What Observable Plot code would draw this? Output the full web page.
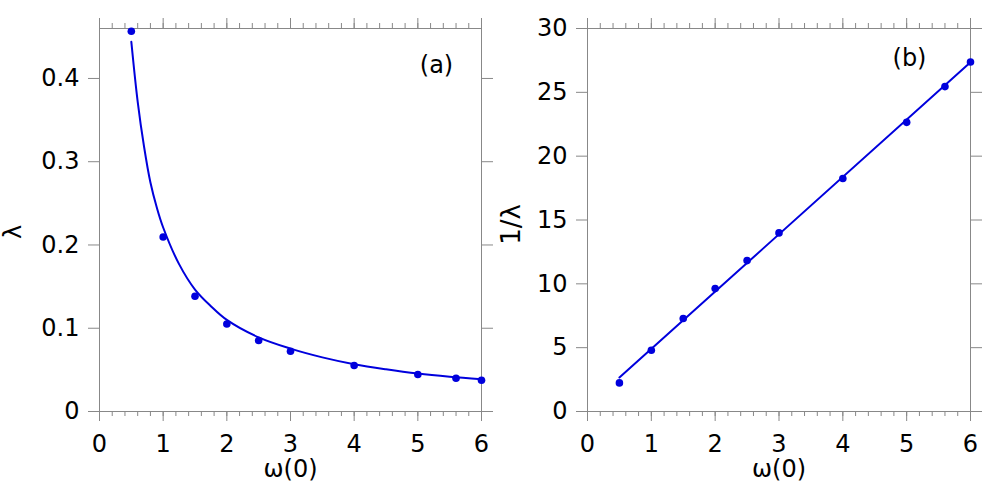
<!DOCTYPE html>
<html>
<head>
<meta charset="utf-8">
<script src="https://cdn.jsdelivr.net/npm/d3@7"></script>
<script src="https://cdn.jsdelivr.net/npm/@observablehq/plot@0.6"></script>
<style>
  html, body { margin: 0; padding: 0; background: white; }
  #wrap { position: relative; width: 996px; height: 492px; }
  #wrap > svg { position: absolute; top: 0; }
</style>
</head>
<body>
<div id="wrap"></div>
<script>
// ---- data ----
const omega = [0.5, 1, 1.5, 2, 2.5, 3, 4, 5, 5.6, 6];
const lambda = [0.4567, 0.2095, 0.1384, 0.1051, 0.0852, 0.0724, 0.0552, 0.0444, 0.0400, 0.0376];
const invLambda = [2.24, 4.80, 7.28, 9.63, 11.82, 13.99, 18.25, 22.65, 25.45, 27.38];

// fitted curve in panel (a)
const fitOmegaA = [0.5, 0.6, 0.7, 0.8, 0.9, 1.0, 1.25, 1.5, 1.75, 2, 2.5, 3, 3.5, 4, 4.5, 5, 5.5, 6];
const fitLambdaA = [0.444, 0.372, 0.318, 0.275, 0.245, 0.221, 0.177, 0.1465, 0.1265, 0.110, 0.089, 0.0755, 0.065, 0.0568, 0.0507, 0.0456, 0.0418, 0.0388];
// fitted straight line in panel (b), its two ends
const fitOmegaB = [0.5, 6];
const fitInvLambdaB = [2.66, 27.35];

// ticks
const xTicks = [0, 1, 2, 3, 4, 5, 6];
const xTickLabels = ["0", "1", "2", "3", "4", "5", "6"];
const xMinorTicks = [0,0.2,0.4,0.6,0.8,1,1.2,1.4,1.6,1.8,2,2.2,2.4,2.6,2.8,3,3.2,3.4,3.6,3.8,4,4.2,4.4,4.6,4.8,5,5.2,5.4,5.6,5.8,6];
const yTicksA = [0, 0.1, 0.2, 0.3, 0.4];
const yTickLabelsA = ["0", "0.1", "0.2", "0.3", "0.4"];
const yTicksB = [0, 5, 10, 15, 20, 25, 30];
const yTickLabelsB = ["0", "5", "10", "15", "20", "25", "30"];

const xLabel = "ω(0)";
const yLabelA = "λ";
const yLabelB = "1/λ";
const panelA = "(a)";
const panelB = "(b)";

// ---- styles ----
const BLUE = "#0000dd";
const GRAY = "#888888";
const FONT = "DejaVu Sans";

function fmt(ticks, labels) {
  const m = new Map(ticks.map((t, i) => [t, labels[i]]));
  return d => m.get(d) ?? "";
}

function panel({ml, mr, ydomain, yTicks, yLabels, ptsY, fitX, fitY, fitCurve, yLabel, yLabelSize, yLabelDx, yLabelDy, tag, tagDx, tagDy}) {
  const pts = omega.map((x, i) => ({x, y: ptsY[i]}));
  const fit = fitX.map((x, i) => ({x, y: fitY[i]}));
  const centered = {textAnchor: "middle", lineAnchor: "middle", fill: "black"};
  return Plot.plot({
    width: 498,
    height: 492,
    marginLeft: ml,
    marginRight: mr,
    marginTop: 28,
    marginBottom: 81,
    style: {fontFamily: FONT, fontSize: "24px", background: "transparent", color: "black", overflow: "visible"},
    x: {domain: [0, 6]},
    y: {domain: ydomain},
    marks: [
      Plot.frame({stroke: GRAY, strokeWidth: 1}),
      // bottom axis
      Plot.axisX({anchor: "bottom", ticks: xMinorTicks, tickSize: 5, tickFormat: () => "", label: null, stroke: GRAY, strokeWidth: 1}),
      Plot.axisX({anchor: "bottom", ticks: xTicks, tickSize: 10, tickPadding: 13, tickFormat: fmt(xTicks, xTickLabels), label: null, stroke: GRAY, strokeWidth: 1, fill: "black", fontSize: 24}),
      // top axis
      Plot.axisX({anchor: "top", ticks: xMinorTicks, tickSize: 6, tickFormat: () => "", label: null, stroke: GRAY, strokeWidth: 1}),
      Plot.axisX({anchor: "top", ticks: xTicks, tickSize: 11, tickFormat: () => "", label: null, stroke: GRAY, strokeWidth: 1}),
      // left / right axes
      Plot.axisY({anchor: "left", ticks: yTicks, tickSize: 11, tickPadding: 9, tickFormat: fmt(yTicks, yLabels), label: null, stroke: GRAY, strokeWidth: 1, fill: "black", fontSize: 24}),
      Plot.axisY({anchor: "right", ticks: yTicks, tickSize: 11, tickFormat: () => "", label: null, stroke: GRAY, strokeWidth: 1}),
      // data
      Plot.line(fit, {x: "x", y: "y", stroke: BLUE, strokeWidth: 2, curve: fitCurve}),
      Plot.dot(pts, {x: "x", y: "y", r: 3.8, fill: BLUE, stroke: "none"}),
      // labels
      Plot.text([xLabel], {frameAnchor: "bottom", dy: 58, fontSize: 24, ...centered}),
      Plot.text([yLabel], {frameAnchor: "left", dx: yLabelDx, dy: yLabelDy, rotate: -90, fontSize: yLabelSize, ...centered}),
      Plot.text([tag], {frameAnchor: "top-right", dx: tagDx, dy: tagDy, fontSize: 24, ...centered})
    ]
  });
}

const svgA = panel({
  ml: 99, mr: 17, ydomain: [0, 0.46], yTicks: yTicksA, yLabels: yTickLabelsA,
  ptsY: lambda, fitX: fitOmegaA, fitY: fitLambdaA, fitCurve: "catmull-rom",
  yLabel: yLabelA, yLabelSize: 24, yLabelDx: -86, yLabelDy: 12, tag: panelA, tagDx: -45, tagDy: 37
});
const svgB = panel({
  ml: 89, mr: 26, ydomain: [0, 30], yTicks: yTicksB, yLabels: yTickLabelsB,
  ptsY: invLambda, fitX: fitOmegaB, fitY: fitInvLambdaB, fitCurve: "linear",
  yLabel: yLabelB, yLabelSize: 26, yLabelDx: -76, yLabelDy: 4.5, tag: panelB, tagDx: -61, tagDy: 30
});
svgA.style.left = "0px";
svgB.style.left = "498px";
const wrap = document.getElementById("wrap");
wrap.appendChild(svgA);
wrap.appendChild(svgB);
</script>
</body>
</html>
